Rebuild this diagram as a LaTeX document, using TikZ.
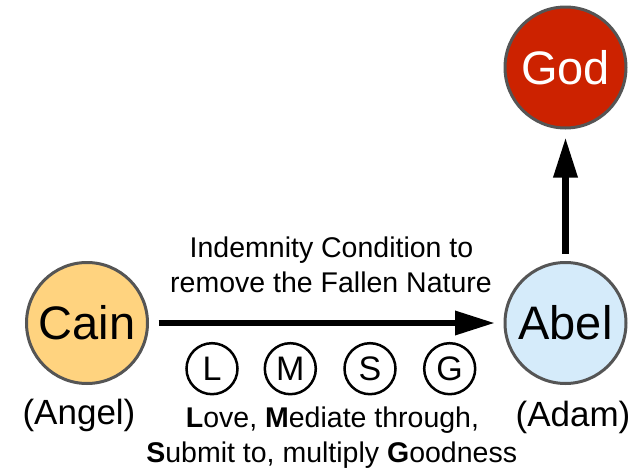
\documentclass[tikz,border=0pt]{standalone}
\usepackage{fontspec}
\setmainfont{Liberation Sans}
\usetikzlibrary{arrows.meta}
\definecolor{cainfill}{HTML}{FFD37F}
\definecolor{abelfill}{HTML}{D5EBFA}
\definecolor{godfill}{HTML}{CC2200}
\definecolor{rim}{HTML}{555555}
\begin{document}
\begin{tikzpicture}[x=1pt,y=-1pt,
  big/.style={circle, draw=rim, line width=3pt, minimum size=121pt, inner sep=0pt, outer sep=0pt, font=\fontsize{47}{50}\selectfont},
  letter/.style={circle, draw=black, line width=2.5pt, minimum size=51pt, inner sep=0pt, font=\fontsize{34}{36}\selectfont},
  body/.style={font=\fontsize{28.5}{34}\selectfont, anchor=base, inner sep=0pt},
  lbl/.style={font=\fontsize{35}{40}\selectfont, anchor=base, inner sep=0pt},
  conn/.style={line width=6.5pt, -{Triangle[length=40pt,width=23pt]}}
]
\useasboundingbox[fill=white] (0,0) rectangle (641,469);
\node[big, fill=cainfill] (cain) at (87,323) {Cain};
\node[big, fill=abelfill] (abel) at (565.5,323) {Abel};
\node[big, fill=godfill, text=white] (god) at (565.5,67.5) {God};
\draw[conn, shorten <=11pt, shorten >=10pt] (cain) -- (abel);
\draw[conn, shorten <=9pt, shorten >=9.5pt] (abel) -- (god);
\node[letter] (cl) at (212,368.7) {L};
\node[letter] (cm) at (290.3,368.7) {M};
\node[letter] (cs) at (370,368.7) {S};
\node[letter] (cg) at (449.7,368.7) {G};
\node[body] (t1) at (331.5,257) {Indemnity Condition to};
\node[body] (t2) at (331,292) {remove the Fallen Nature};
\node[lbl] (angel) at (79,424) {(Angel)};
\node[lbl] (adam) at (573,426) {(Adam)};
\node[body] (b1) at (332.5,427) {\textbf{L}ove, \textbf{M}ediate through,};
\node[body] (b2) at (331.7,462) {\textbf{S}ubmit to, multiply \textbf{G}oodness};
\end{tikzpicture}
\end{document}
